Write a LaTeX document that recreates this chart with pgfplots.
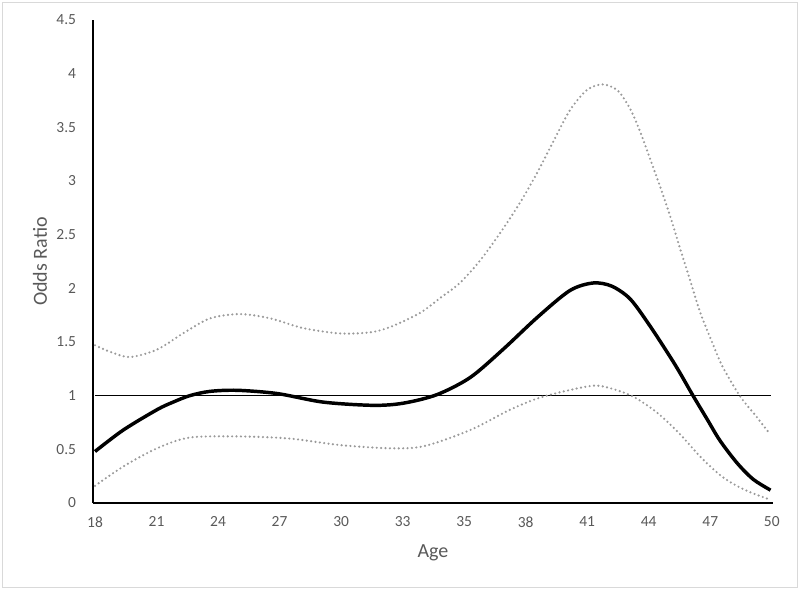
\documentclass[border=0pt]{standalone}
\usepackage{pgfplots}
\pgfplotsset{compat=1.18}
\usepackage{fontspec}
\setmainfont{Carlito}
\definecolor{ticktext}{HTML}{595959}
\definecolor{cigray}{HTML}{9A9A9A}
\definecolor{frame}{HTML}{D9D9D9}

% odds ratio curve and 95% CI, x = category index (18 ... 50)
\pgfplotstableread{
x y
0 0.48
0.46 0.68
1.01 0.87
1.27 0.94
1.54 1.00
1.87 1.04
2.31 1.05
2.96 1.02
3.71 0.94
4.52 0.91
5.01 0.93
5.56 1.01
6.10 1.17
6.63 1.43
7.19 1.73
7.72 1.98
8.10 2.05
8.40 2.02
8.70 1.90
9.02 1.65
9.35 1.36
9.51 1.21
9.72 1.00
9.95 0.78
10.16 0.58
10.44 0.37
10.70 0.22
10.98 0.12
}\orcurve
\pgfplotstableread{
x y
0 1.47
0.24 1.41
0.57 1.36
1.01 1.43
1.43 1.58
1.87 1.72
2.36 1.76
2.85 1.72
3.38 1.63
3.98 1.58
4.47 1.59
4.80 1.64
5.28 1.77
5.61 1.91
5.93 2.05
6.26 2.26
6.59 2.52
6.91 2.80
7.19 3.08
7.46 3.38
7.72 3.66
8.00 3.85
8.26 3.90
8.50 3.84
8.70 3.67
8.86 3.46
9.02 3.21
9.19 2.94
9.35 2.67
9.51 2.37
9.67 2.08
9.84 1.77
10.05 1.47
10.21 1.26
10.49 0.99
10.73 0.82
10.96 0.65
}\ciupper
\pgfplotstableread{
x y
0 0.16
0.46 0.34
1.01 0.51
1.54 0.61
2.36 0.62
3.17 0.60
3.98 0.54
4.80 0.51
5.35 0.53
6.10 0.68
6.75 0.87
7.28 0.99
8.05 1.09
8.37 1.07
8.75 0.99
9.14 0.84
9.51 0.64
9.84 0.43
10.16 0.26
10.40 0.17
10.65 0.10
10.98 0.03
}\cilower

\begin{document}
\begin{tikzpicture}
\useasboundingbox (-69.75pt,-65.25pt) rectangle (530.25pt,377.25pt);
\draw[frame, line width=0.75pt] (-68pt,-63.5pt) rectangle (528pt,375.5pt);
\begin{axis}[
    at={(0,0)}, anchor=south west,
    scale only axis,
    width=510pt, height=362.25pt,
    xmin=-0.0325, xmax=11.02,
    ymin=0, ymax=4.5,
    axis lines=left,
    axis line style={-, black, line width=1.2pt},
    major tick length=0pt,
    xtick={0,...,11},
    xticklabels={18,21,24,27,30,33,35,38,41,44,47,50},
    ytick={0,0.5,...,4.5},
    /pgf/number format/assume math mode=true,
    /pgf/number format/fixed,
    tick label style={font=\fontsize{11.6}{13}\selectfont, text=ticktext, inner sep=0pt},
    xticklabel style={anchor=north, yshift=-10pt},
    yticklabel style={anchor=east, xshift=-12.5pt},
    xlabel={Age}, ylabel={Odds Ratio},
    every axis x label/.style={at={(axis description cs:0.5,-0.1035)}, anchor=center,
        font=\fontsize{15}{17}\selectfont, text=ticktext},
    every axis y label/.style={at={(axis description cs:-0.078,0.5)}, anchor=center, rotate=90,
        font=\fontsize{15}{17}\selectfont, text=ticktext},
    clip=false,
]
\addplot[black, line width=0.75pt] coordinates {(0,1) (10.98,1)};
\addplot[cigray, line width=1.8pt, line cap=round, dash pattern=on 0pt off 3.3pt, smooth] table {\ciupper};
\addplot[cigray, line width=1.8pt, line cap=round, dash pattern=on 0pt off 3.3pt, smooth] table {\cilower};
\addplot[black, line width=2.6pt, smooth] table {\orcurve};
\end{axis}
\end{tikzpicture}
\end{document}
